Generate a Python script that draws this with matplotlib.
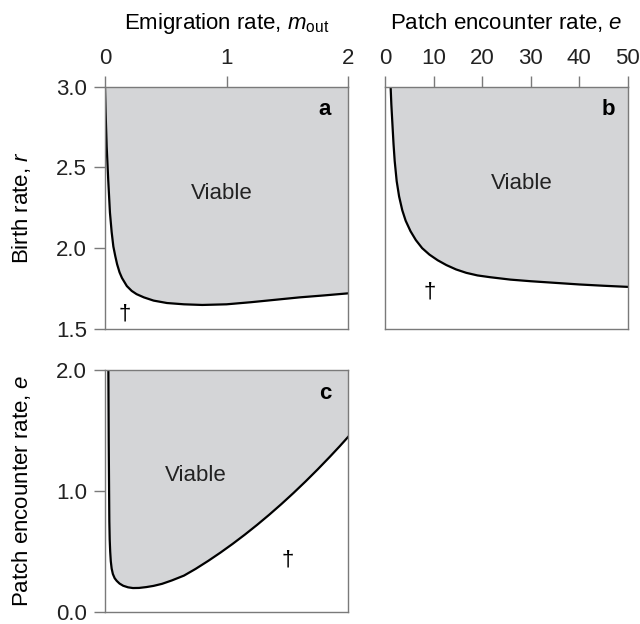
import matplotlib
matplotlib.use('Agg')
import matplotlib.pyplot as plt
import numpy as np

plt.rcParams['font.family'] = ['Liberation Sans', 'DejaVu Sans']
plt.rcParams['mathtext.fontset'] = 'custom'
plt.rcParams['mathtext.rm'] = 'Liberation Sans'
plt.rcParams['mathtext.it'] = 'Liberation Sans:italic'

# panel a: viability boundary, birth rate vs emigration rate
m_a = [0.0, 0.005, 0.014, 0.027, 0.041, 0.055, 0.069, 0.085, 0.10, 0.12, 0.14,
       0.18, 0.22, 0.26, 0.32, 0.40, 0.51, 0.65, 0.80, 1.0, 1.2, 1.4, 1.6,
       1.8, 2.0]
r_a = [3.0, 2.85, 2.63, 2.42, 2.22, 2.10, 2.01, 1.95, 1.90, 1.85, 1.815,
       1.765, 1.735, 1.715, 1.695, 1.675, 1.66, 1.652, 1.648, 1.652, 1.665, 1.68, 1.695,
       1.707, 1.72]

# panel b: birth rate vs patch encounter rate
e_b = [1.1, 1.25, 1.46, 1.7, 1.94, 2.35, 2.85, 3.5, 4.2, 5.2, 6.3, 7.6, 9.1,
       10.8, 12.6, 14.6, 16.7, 19.0, 21.6, 25.8, 30, 35, 40, 45, 50]
r_b = [3.0, 2.89, 2.775, 2.645, 2.54, 2.415, 2.32, 2.235, 2.17, 2.105, 2.05, 2.0, 1.96,
       1.925, 1.895, 1.868, 1.847, 1.831, 1.82, 1.805, 1.795, 1.785, 1.775, 1.767, 1.76]

# panel c: patch encounter rate vs emigration rate
m_c = [0.028, 0.031, 0.034, 0.036, 0.039, 0.043, 0.048, 0.055, 0.065, 0.08,
       0.097, 0.12, 0.15, 0.19, 0.23, 0.28, 0.34, 0.40, 0.47, 0.55, 0.65,
       0.745, 0.85, 0.95, 1.05, 1.15, 1.25, 1.35, 1.45, 1.55, 1.65, 1.75,
       1.85, 1.93, 2.0]
e_c = [2.0, 1.4, 1.0, 0.75, 0.6, 0.5, 0.42, 0.36, 0.315, 0.28,
       0.258, 0.236, 0.218, 0.205, 0.199, 0.20, 0.207, 0.217, 0.234, 0.262, 0.302,
       0.357, 0.424, 0.492, 0.564, 0.640, 0.720, 0.804, 0.892, 0.984, 1.080, 1.180,
       1.284, 1.370, 1.448]

fill_col = '#d4d5d7'
spine_col = '#7a7a7a'
fs = 16

fig = plt.figure(figsize=(6.4, 6.24), dpi=100)
ax_a = fig.add_axes([0.164, 0.473, 0.380, 0.388])
ax_b = fig.add_axes([0.602, 0.473, 0.379, 0.388])
ax_c = fig.add_axes([0.164, 0.019, 0.380, 0.388])


def style(ax):
    for s in ax.spines.values():
        s.set_color(spine_col)
        s.set_linewidth(1.0)
    ax.tick_params(colors=spine_col, labelcolor='#222222', labelsize=fs,
                   length=8, width=1.0, direction='out', pad=5)


# a
ax_a.fill_between(m_a, r_a, 3.0, color=fill_col, lw=0)
ax_a.plot(m_a, r_a, color='black', lw=1.6)
ax_a.set_xlim(0, 2)
ax_a.set_ylim(1.5, 3.0)
ax_a.xaxis.tick_top()
ax_a.xaxis.set_label_position('top')
ax_a.set_xticks([0, 1, 2])
ax_a.set_yticks([1.5, 2.0, 2.5, 3.0])
ax_a.set_yticklabels(['1.5', '2.0', '2.5', '3.0'])
ax_a.set_xlabel(r'Emigration rate, $m_{\mathrm{out}}$', fontsize=fs)
ax_a.xaxis.set_label_coords(0.5, 1.237)
ax_a.set_ylabel(r'Birth rate, $r$', fontsize=fs)
ax_a.yaxis.set_label_coords(-0.296, 0.5)
ax_a.text(0.96, 2.34, 'Viable', fontsize=fs, ha='center', va='center', color='#222222')
ax_a.text(1.81, 2.86, 'a', fontsize=fs, fontweight='bold', ha='center', va='center')
ax_a.text(0.16, 1.59, '\u2020', fontsize=fs, ha='center', va='center')
style(ax_a)

# b
ax_b.fill_between(e_b, r_b, 3.0, color=fill_col, lw=0)
ax_b.plot(e_b, r_b, color='black', lw=1.6)
ax_b.set_xlim(0, 50)
ax_b.set_ylim(1.5, 3.0)
ax_b.xaxis.tick_top()
ax_b.xaxis.set_label_position('top')
ax_b.set_xticks([0, 10, 20, 30, 40, 50])
ax_b.set_yticks([])
ax_b.set_xlabel(r'Patch encounter rate, $e$', fontsize=fs)
ax_b.xaxis.set_label_coords(0.5, 1.237)
ax_b.text(28.1, 2.40, 'Viable', fontsize=fs, ha='center', va='center', color='#222222')
ax_b.text(45.9, 2.86, 'b', fontsize=fs, fontweight='bold', ha='center', va='center')
ax_b.text(9.2, 1.73, '\u2020', fontsize=fs, ha='center', va='center')
style(ax_b)

# c
ax_c.fill(list(m_c) + [2.0], list(e_c) + [2.0], color=fill_col, lw=0)
ax_c.plot(m_c, e_c, color='black', lw=1.6)
ax_c.set_xlim(0, 2)
ax_c.set_ylim(0, 2)
ax_c.set_xticks([])
ax_c.set_yticks([0.0, 1.0, 2.0])
ax_c.set_yticklabels(['0.0', '1.0', '2.0'])
ax_c.set_ylabel(r'Patch encounter rate, $e$', fontsize=fs)
ax_c.yaxis.set_label_coords(-0.296, 0.5)
ax_c.text(0.75, 1.13, 'Viable', fontsize=fs, ha='center', va='center', color='#222222')
ax_c.text(1.81, 1.81, 'c', fontsize=fs, fontweight='bold', ha='center', va='center')
ax_c.text(1.5, 0.43, '\u2020', fontsize=fs, ha='center', va='center')
style(ax_c)

fig.savefig('out.png', dpi=100)
